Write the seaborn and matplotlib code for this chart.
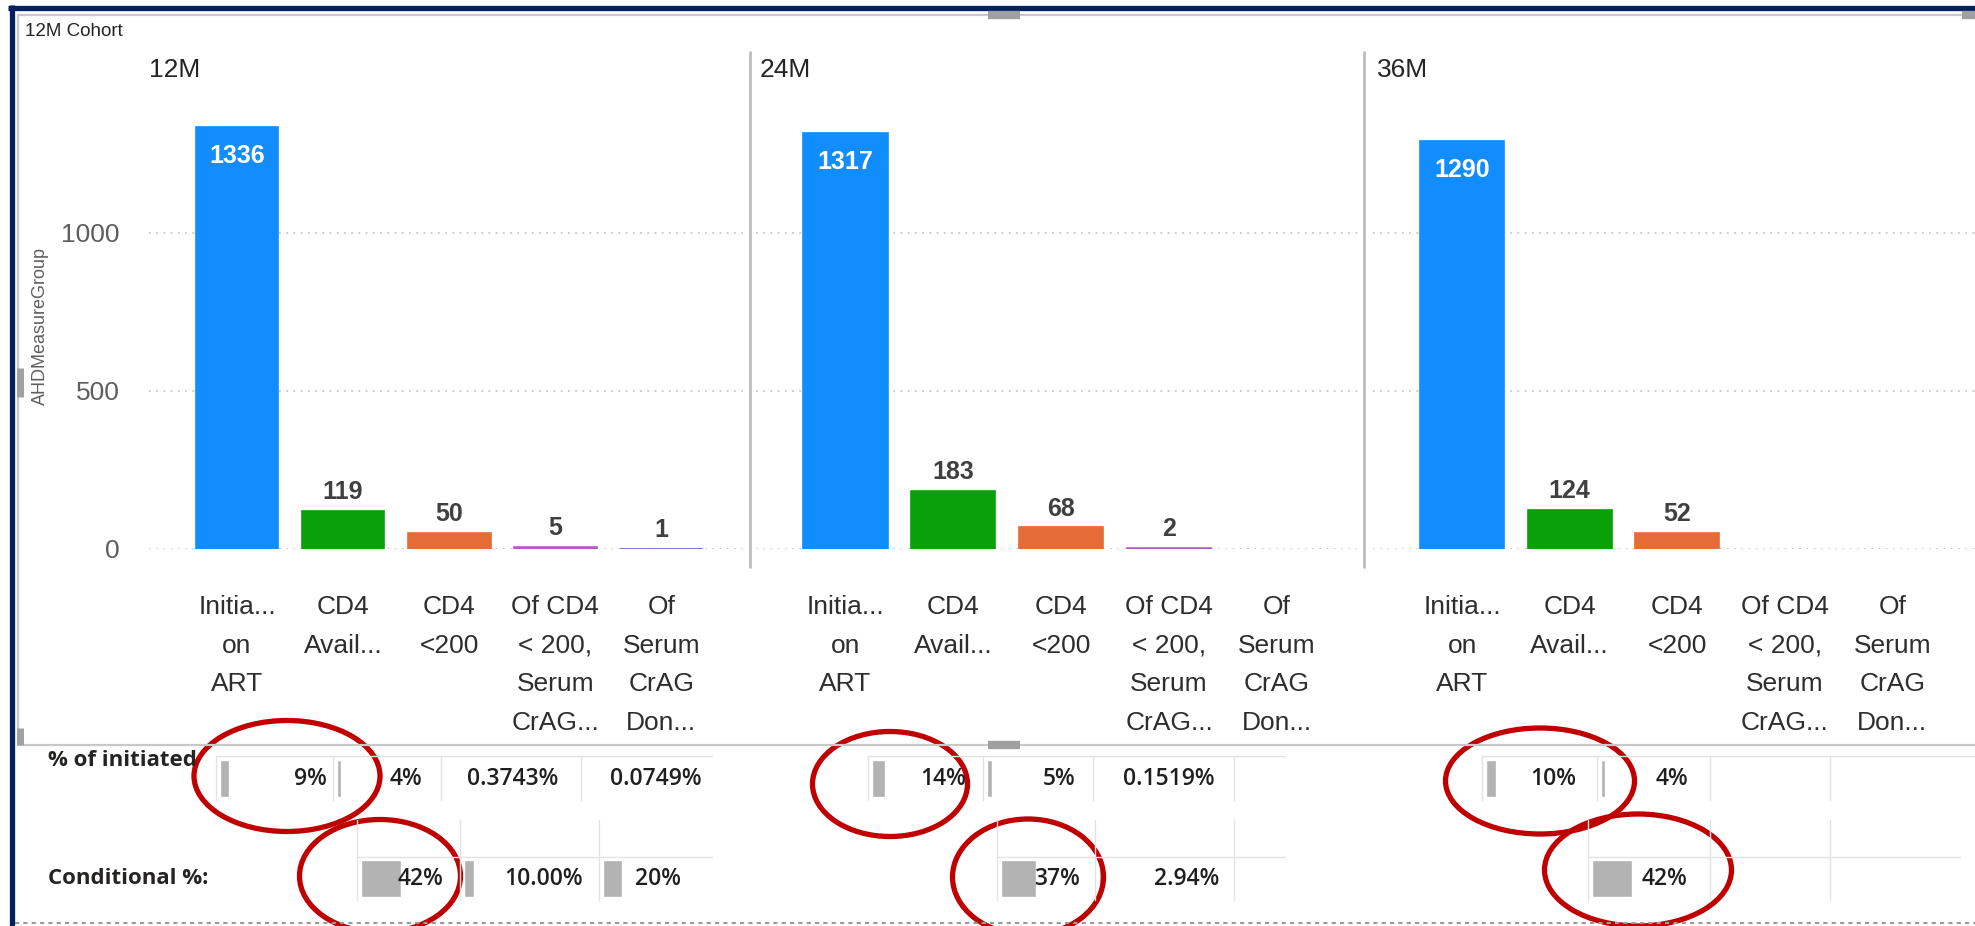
import matplotlib
matplotlib.use("Agg")
import matplotlib.pyplot as plt
from matplotlib.patches import Ellipse
import pandas as pd
import seaborn as sns

W, H = 1975, 926

# ---- data ----
periods = ['12M', '24M', '36M']
measures = ['Initiated on ART', 'CD4 Available', 'CD4 <200',
            'Of CD4 < 200, Serum CrAG Done', 'Of Serum CrAG Done']
tick_labels = ['Initia...\non\nART', 'CD4\nAvail...', 'CD4\n<200',
               'Of CD4\n< 200,\nSerum\nCrAG...', 'Of\nSerum\nCrAG\nDon...']
counts_12m = [1336, 119, 50, 5, 1]
counts_24m = [1317, 183, 68, 2]
counts_36m = [1290, 124, 52]

pct_initiated_labels = [['9%', '4%', '0.3743%', '0.0749%'], ['14%', '5%', '0.1519%'], ['10%', '4%']]
pct_initiated = [[0.09, 0.04, 0.003743, 0.000749], [0.14, 0.05, 0.001519], [0.10, 0.04]]
conditional_labels = [['42%', '10.00%', '20%'], ['37%', '2.94%'], ['42%']]
conditional = [[0.42, 0.10, 0.20], [0.37, 0.0294], [0.42]]

palette = dict(zip(measures, ['#118DFF', '#0AA00A', '#E66C37', '#B05FC3', '#5F6BD8']))

# ---- layout (pixels of the 1975x926 canvas) ----
row1_right = [[327, 422, 558, 702], [966, 1076, 1215], [1576, 1688]]
row1_left = [[216, 333, 441, 581], [868, 983, 1093], [1482, 1597]]
row2_right = [[443, 583, 681], [1080, 1219], [1687]]
row2_left = [[357, 460, 599], [997, 1095], [1588]]
row1_lines = [216, 333, 441, 581, 868, 983, 1093, 1234, 1482, 1597, 1710, 1830]
row2_lines = [357, 460, 599, 997, 1095, 1234, 1588, 1710, 1830]
ellipses = [(287, 776, 186, 111), (380, 876, 161, 113), (890, 784, 155, 105),
            (1028, 877, 151, 116), (1540, 781, 189, 106), (1638, 870, 187, 112)]

sns.set_style('white')
plt.rcParams['font.family'] = ['Liberation Sans', 'DejaVu Sans']

fig = plt.figure(figsize=(19.75, 9.26), dpi=100)

def rect(l, t, r, b):
    return [l / W, 1 - b / H, (r - l) / W, (b - t) / H]

panel_px = [(149, 743), (756, 1360), (1373, 1975)]
for i, counts in enumerate([counts_12m, counts_24m, counts_36m]):
    ax = fig.add_axes(rect(panel_px[i][0], 100, panel_px[i][1], 549))
    df = pd.DataFrame({'measure': measures[:len(counts)], 'count': counts})
    sns.barplot(data=df, x='measure', y='count', hue='measure', order=measures,
                hue_order=measures, palette=palette, width=0.78, saturation=1,
                legend=False, ax=ax)
    for p in ax.patches:
        h = p.get_height()
        if not h == h or h == 0:
            continue
        p.set_edgecolor(p.get_facecolor())
        p.set_linewidth(1.2)
        cx = p.get_x() + p.get_width() / 2
        if h > 1000:
            ax.annotate(f'{int(h)}', (cx, h), xytext=(0, -21), textcoords='offset points',
                        ha='center', va='center', color='white', fontsize=18, fontweight='bold')
        else:
            ax.annotate(f'{int(h)}', (cx, h), xytext=(0, 5), textcoords='offset points',
                        ha='center', va='bottom', color='#404040', fontsize=18, fontweight='bold')
    ax.set_xlim(-0.83, 4.77)
    ax.set_ylim(0, 1420)
    ax.set_yticks([0, 500, 1000])
    ax.yaxis.grid(True, linestyle=(0, (1, 3)), color='#C8C8C8', linewidth=1.3)
    ax.set_axisbelow(True)
    ax.set_xticks(range(len(measures)))
    ax.set_xticklabels(tick_labels, fontsize=19, color='#2E2E2E', linespacing=1.78)
    ax.tick_params(axis='x', length=0, pad=33)
    ax.tick_params(axis='y', length=0, pad=21, labelsize=19, labelcolor='#605E5C')
    if i > 0:
        ax.set_yticklabels([])
    ax.set_xlabel('')
    ax.set_ylabel('')
    sns.despine(ax=ax, left=True, bottom=True)

# panel titles
for x, period in zip([149, 760, 1377], periods):
    fig.text(x / W, 1 - 70 / H, period, fontsize=19, color='#252423', ha='left', va='center')

fig.text(25 / W, 1 - 32 / H, '12M Cohort', fontsize=13.5, color='#252423', ha='left', va='center')
fig.text(40 / W, 1 - 326 / H, 'AHDMeasureGroup', rotation=90, fontsize=13,
         color='#605E5C', ha='center', va='center')

# ---- overlay in pixel coordinates: frame, table, ellipses ----
ov = fig.add_axes([0, 0, 1, 1], zorder=10)
ov.set_xlim(0, W)
ov.set_ylim(H, 0)
ov.axis('off')
ov.patch.set_alpha(0)

ov.plot([8, W], [7.5, 7.5], color='#002060', lw=3.8, solid_capstyle='butt')
ov.plot([12, 12], [5, H], color='#002060', lw=3.8, solid_capstyle='butt')
ov.plot([18, W], [15, 15], color='#C8C8C8', lw=1.6)
ov.plot([18, 18], [15, 745], color='#C8C8C8', lw=1.6)
ov.plot([18, W], [745, 745], color='#C8C8C8', lw=1.6)
ov.plot([15, W], [923, 923], color='#9A9A9A', lw=1.5, linestyle=(0, (2, 2)))
for x in [750, 1364]:
    ov.plot([x, x], [52, 567], color='#BDBDBD', lw=2)
# resize handles
ov.plot([988, 1020], [15, 15], color='#A0A0A0', lw=6, solid_capstyle='butt')
ov.plot([988, 1020], [745, 745], color='#A0A0A0', lw=6, solid_capstyle='butt')
ov.plot([20, 20], [368, 397], color='#A0A0A0', lw=5, solid_capstyle='butt')
ov.plot([1962, W], [15, 15], color='#A0A0A0', lw=6, solid_capstyle='butt')
ov.plot([20, 20], [728, 745], color='#A0A0A0', lw=5, solid_capstyle='butt')

# table grid
for xs, xe in [(216, 712), (868, 1285), (1482, W)]:
    ov.plot([xs, xe], [756, 756], color='#E3E3E3', lw=1)
for xs, xe in [(357, 712), (997, 1285), (1588, 1960)]:
    ov.plot([xs, xe], [857, 857], color='#E3E3E3', lw=1)
for x in row1_lines:
    ov.plot([x, x], [756, 800], color='#E3E3E3', lw=1)
for x in row2_lines:
    ov.plot([x, x], [820, 900], color='#E3E3E3', lw=1)

tfont = ['Open Sans', 'Liberation Sans', 'DejaVu Sans']
ov.text(48, 761, '% of initiated', fontsize=16, fontweight='bold', color='#252423',
        ha='left', va='center', family=tfont)
ov.text(48, 878, 'Conditional %:', fontsize=16, fontweight='bold', color='#252423',
        ha='left', va='center', family=tfont)

bar_scale = 95
for vals, labs, lefts, rights in zip(pct_initiated, pct_initiated_labels, row1_left, row1_right):
    ov.barh([778] * len(vals), [v * bar_scale for v in vals], left=[l + 4 for l in lefts],
            height=37, color='#B3B3B3')
    for lab, r in zip(labs, rights):
        ov.text(r, 779, lab, fontsize=16.5, fontweight='semibold', color='#1F1F1F',
                ha='right', va='center', family=tfont)
for vals, labs, lefts, rights in zip(conditional, conditional_labels, row2_left, row2_right):
    ov.barh([878] * len(vals), [v * bar_scale for v in vals], left=[l + 4 for l in lefts],
            height=37, color='#B3B3B3')
    for lab, r in zip(labs, rights):
        ov.text(r, 879, lab, fontsize=16.5, fontweight='semibold', color='#1F1F1F',
                ha='right', va='center', family=tfont)

for cx, cy, w, h in ellipses:
    ov.add_patch(Ellipse((cx, cy), w, h, fill=False, edgecolor='#C00000', lw=3.8))

fig.savefig('out.png', dpi=100)
